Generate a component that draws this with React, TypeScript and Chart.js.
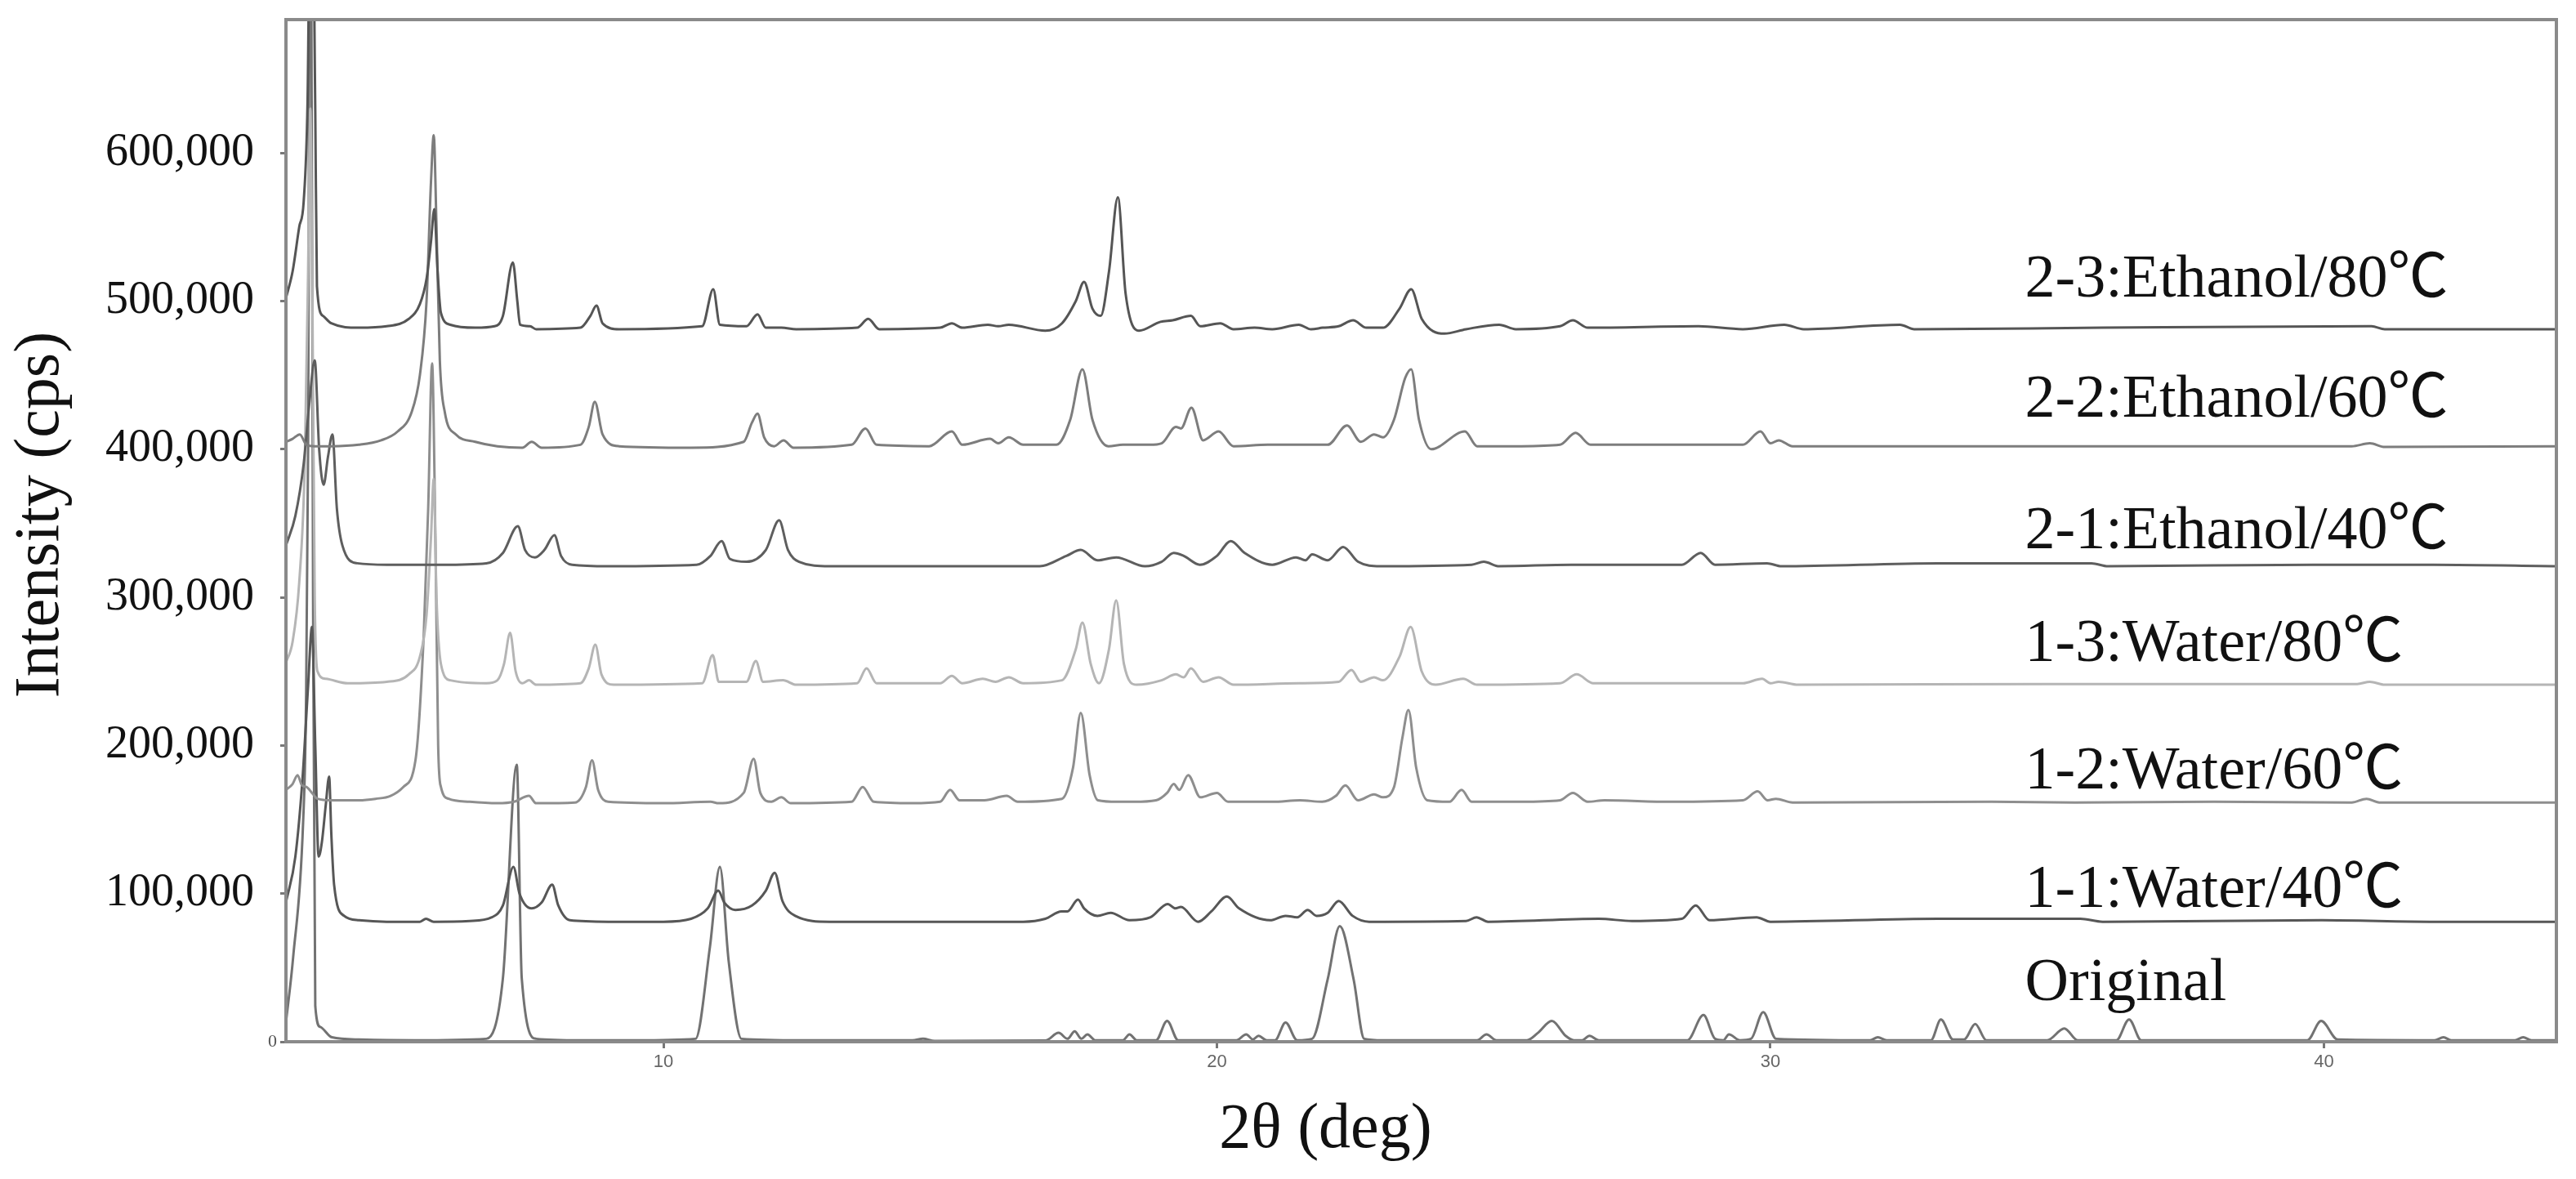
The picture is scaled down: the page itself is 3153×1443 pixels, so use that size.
import React, { useEffect, useRef } from "react";
import { Chart, registerables } from "chart.js";

Chart.register(...registerables);

// ---------- data ----------
const seriesNames = [
  "2-3:Ethanol/80℃",
  "2-2:Ethanol/60℃",
  "2-1:Ethanol/40℃",
  "1-3:Water/80℃",
  "1-2:Water/60℃",
  "1-1:Water/40℃",
  "Original",
];
const seriesOffsets = [480000, 400000, 320000, 240000, 160000, 80000, 0];
const yTickValues = [0, 100000, 200000, 300000, 400000, 500000, 600000];
const xTickValues = [10, 20, 30, 40];

// [2θ, intensity (cps)], before vertical offset
const ethanol80: [number, number][] = [
  [3.18, 22000], [3.3, 40000], [3.42, 70000], [3.5, 87000], [3.57, 154000], [3.62, 300000], [3.66, 300000],
  [3.71, 148000], [3.74, 30000], [3.85, 10000], [4.0, 5000], [4.5, 2000], [5.0, 3000], [5.4, 8000],
  [5.6, 18000], [5.72, 35000], [5.8, 60000], [5.86, 82000], [5.92, 40000], [5.98, 12000], [6.15, 4000],
  [6.6, 2000], [6.95, 3000], [7.1, 10000], [7.28, 46000], [7.36, 20000], [7.41, 4000], [7.59, 3000],
  [7.7, 1000], [8.5, 2000], [8.68, 10000], [8.79, 17000], [8.9, 5000], [9.2, 1000], [10.7, 3000],
  [10.9, 28000], [11.02, 4000], [11.5, 3000], [11.7, 11000], [11.85, 2000], [12.13, 2000], [12.4, 1000],
  [13.5, 2000], [13.7, 8000], [13.9, 1000], [15.0, 2000], [15.21, 5000], [15.4, 2000], [15.86, 4000],
  [16.05, 3000], [16.24, 4000], [16.9, 0], [17.2, 5000], [17.45, 20000], [17.6, 33000], [17.75, 15000],
  [17.9, 10000], [18.05, 40000], [18.21, 90000], [18.35, 25000], [18.59, 0], [18.98, 6000], [19.2, 7000],
  [19.53, 10000], [19.7, 3000], [20.06, 5000], [20.3, 1000], [20.68, 2000], [21.0, 1000], [21.48, 4000],
  [21.7, 1000], [21.91, 2000], [22.2, 3000], [22.46, 7000], [22.7, 2000], [23.0, 2000], [23.3, 15000],
  [23.51, 28000], [23.7, 8000], [24.11, -2000], [24.5, 1000], [25.1, 4000], [25.4, 1000], [26.2, 3000],
  [26.43, 7000], [26.7, 2000], [28.7, 3000], [29.5, 1000], [30.25, 4000], [30.6, 1000], [32.34, 4000],
  [32.6, 1000], [36.0, 2000], [40.86, 3000], [41.1, 1000], [44.2, 1000],
];

const ethanol60: [number, number][] = [
  [3.18, 5000], [3.3, 7000], [3.43, 10000], [3.55, 3000], [3.7, 2000], [4.0, 2000], [4.5, 3000],
  [4.9, 6000], [5.2, 12000], [5.45, 25000], [5.6, 50000], [5.72, 100000], [5.8, 180000], [5.85, 212000],
  [5.9, 150000], [5.96, 60000], [6.05, 25000], [6.25, 10000], [6.6, 5000], [7.0, 2000], [7.45, 1000],
  [7.62, 5000], [7.8, 1000], [8.5, 3000], [8.65, 15000], [8.76, 32000], [8.9, 10000], [9.2, 2000],
  [10.5, 1000], [11.45, 5000], [11.6, 18000], [11.7, 24000], [11.82, 8000], [12.0, 2000], [12.17, 6000],
  [12.35, 1000], [13.4, 3000], [13.65, 14000], [13.85, 3000], [14.8, 2000], [15.21, 12000], [15.4, 3000],
  [15.9, 7000], [16.05, 4000], [16.24, 8000], [16.5, 3000], [17.1, 3000], [17.35, 20000], [17.57, 54000],
  [17.75, 20000], [18.04, 2000], [18.3, 3000], [18.79, 3000], [19.0, 4000], [19.26, 15000], [19.35, 14000],
  [19.54, 28000], [19.75, 6000], [20.03, 12000], [20.3, 2000], [20.92, 3000], [21.48, 3000], [22.0, 3000],
  [22.35, 16000], [22.6, 5000], [22.84, 10000], [23.0, 8000], [23.2, 20000], [23.4, 48000], [23.51, 54000],
  [23.65, 20000], [23.87, 0], [24.48, 12000], [24.7, 2000], [25.5, 2000], [26.2, 3000], [26.48, 11000],
  [26.75, 3000], [27.09, 3000], [28.18, 3000], [29.5, 3000], [29.82, 12000], [30.0, 4000], [30.15, 6000],
  [30.4, 2000], [33.0, 2000], [36.0, 2000], [40.5, 2000], [40.83, 4000], [41.1, 1500], [44.2, 2000],
];

const ethanol40: [number, number][] = [
  [3.18, 15000], [3.35, 35000], [3.5, 70000], [3.6, 110000], [3.7, 140000], [3.78, 80000], [3.86, 56000],
  [3.94, 75000], [4.02, 90000], [4.1, 40000], [4.2, 15000], [4.47, 3000], [5.0, 2000], [6.0, 2000],
  [6.8, 3000], [7.1, 10000], [7.37, 28000], [7.5, 12000], [7.68, 7000], [7.85, 12000], [8.03, 22000],
  [8.15, 8000], [8.35, 2000], [9.0, 1000], [10.6, 2000], [10.85, 8000], [11.05, 18000], [11.2, 6000],
  [11.5, 4000], [11.85, 12000], [12.09, 32000], [12.25, 12000], [12.45, 4000], [13.0, 1000], [16.8, 1000],
  [17.28, 8000], [17.54, 12000], [17.84, 5000], [18.18, 7000], [18.7, 1000], [19.0, 4000], [19.22, 10000],
  [19.4, 8000], [19.69, 2000], [20.0, 8000], [20.25, 18000], [20.5, 10000], [21.0, 2000], [21.43, 7000],
  [21.6, 5000], [21.72, 9000], [22.0, 5000], [22.28, 14000], [22.55, 4000], [22.95, 1000], [24.6, 2000],
  [24.82, 4000], [25.1, 1000], [26.4, 2000], [28.4, 2000], [28.74, 10000], [29.0, 2000], [29.94, 3000],
  [30.2, 1000], [33.03, 3000], [35.8, 3000], [36.1, 1000], [39.8, 2000], [41.98, 2000], [44.2, 1000],
];

const water80: [number, number][] = [
  [3.18, 16000], [3.3, 30000], [3.42, 70000], [3.52, 150000], [3.58, 280000], [3.62, 390000], [3.66, 250000],
  [3.7, 60000], [3.75, 10000], [3.9, 5000], [4.3, 2000], [5.0, 3000], [5.4, 8000], [5.6, 20000],
  [5.72, 48000], [5.8, 100000], [5.85, 140000], [5.9, 60000], [5.98, 15000], [6.15, 4000], [6.8, 2000],
  [7.0, 4000], [7.12, 15000], [7.23, 36000], [7.33, 10000], [7.45, 2000], [7.57, 4000], [7.7, 1000],
  [8.5, 2000], [8.65, 12000], [8.77, 28000], [8.88, 8000], [9.1, 1000], [10.7, 2000], [10.89, 21000],
  [11.0, 3000], [11.5, 3000], [11.67, 17000], [11.8, 3000], [12.16, 4000], [12.4, 1000], [13.5, 2000],
  [13.67, 12000], [13.85, 2000], [15.0, 2000], [15.21, 7000], [15.4, 2000], [15.77, 5000], [16.0, 3000],
  [16.24, 6000], [16.5, 2000], [17.2, 4000], [17.45, 25000], [17.57, 43000], [17.72, 15000], [17.87, 2000],
  [18.05, 25000], [18.18, 58000], [18.32, 15000], [18.55, 1000], [19.0, 4000], [19.26, 8000], [19.4, 6000],
  [19.53, 12000], [19.75, 3000], [20.03, 6000], [20.3, 1000], [21.48, 2000], [22.2, 3000], [22.43, 11000],
  [22.6, 3000], [22.84, 6000], [23.0, 4000], [23.3, 20000], [23.5, 40000], [23.7, 10000], [23.95, 1000],
  [24.45, 5000], [24.7, 1000], [26.2, 2000], [26.5, 8000], [26.8, 2000], [29.5, 2000], [29.85, 5000],
  [30.0, 2000], [30.15, 3000], [30.5, 1000], [35.0, 1500], [40.6, 1500], [40.83, 3000], [41.1, 1000],
  [44.2, 1000],
];

const water60: [number, number][] = [
  [3.18, 10000], [3.3, 14000], [3.39, 20000], [3.47, 13000], [3.55, 12000], [3.65, 8000], [3.75, 4000],
  [4.0, 3000], [4.5, 3000], [4.8, 4000], [5.07, 6000], [5.3, 12000], [5.52, 30000], [5.67, 115000],
  [5.75, 200000], [5.82, 298000], [5.88, 180000], [5.93, 40000], [5.98, 12000], [6.12, 4000], [6.5, 2000],
  [7.0, 1000], [7.3, 2000], [7.57, 6000], [7.7, 1000], [8.4, 1500], [8.6, 12000], [8.71, 30000],
  [8.82, 10000], [9.0, 2000], [10.0, 1000], [10.85, 2000], [11.0, 1000], [11.45, 8000], [11.63, 31000],
  [11.75, 8000], [11.95, 2000], [12.13, 5000], [12.3, 1000], [13.4, 2000], [13.6, 12000], [13.8, 2000],
  [14.5, 1000], [15.0, 2000], [15.18, 10000], [15.35, 3000], [15.8, 3000], [16.2, 6000], [16.4, 2000],
  [17.2, 4000], [17.4, 25000], [17.54, 62000], [17.7, 20000], [17.85, 3000], [18.2, 2000], [18.5, 2000],
  [18.9, 3000], [19.1, 8000], [19.22, 14000], [19.32, 10000], [19.48, 20000], [19.7, 5000], [20.0, 8000],
  [20.2, 2000], [21.0, 2000], [21.5, 3000], [21.9, 2000], [22.15, 6000], [22.32, 13000], [22.55, 3000],
  [22.84, 7000], [23.0, 5000], [23.2, 12000], [23.35, 45000], [23.46, 64000], [23.6, 25000], [23.8, 3000],
  [24.2, 2000], [24.42, 10000], [24.6, 2000], [25.5, 2000], [26.2, 3000], [26.43, 8000], [26.7, 2000],
  [27.0, 3000], [28.2, 2000], [29.5, 3000], [29.77, 9000], [29.95, 3000], [30.1, 4000], [30.4, 1500],
  [34.0, 2000], [35.5, 1500], [38.0, 2000], [40.5, 1500], [40.77, 4000], [41.0, 1500], [44.2, 1500],
];

const water40: [number, number][] = [
  [3.18, 14000], [3.35, 45000], [3.48, 98000], [3.58, 160000], [3.65, 200000], [3.71, 120000], [3.77, 45000],
  [3.83, 55000], [3.9, 80000], [3.96, 99000], [4.0, 60000], [4.05, 26000], [4.23, 5000], [4.5, 2000],
  [5.0, 1000], [5.6, 1000], [5.71, 3000], [5.85, 1000], [6.5, 1500], [6.9, 4000], [7.1, 12000],
  [7.29, 38000], [7.4, 20000], [7.62, 10000], [7.8, 14000], [7.99, 26000], [8.1, 12000], [8.31, 2000],
  [9.0, 1000], [10.0, 1000], [10.5, 3000], [10.8, 10000], [10.99, 22000], [11.1, 14000], [11.3, 9000],
  [11.6, 12000], [11.85, 22000], [12.01, 34000], [12.15, 15000], [12.38, 5000], [13.0, 1000], [16.5, 1000],
  [16.9, 3000], [17.19, 8000], [17.3, 8000], [17.49, 16000], [17.6, 10000], [17.84, 5000], [18.08, 7000],
  [18.42, 2000], [18.8, 4000], [19.11, 13000], [19.25, 10000], [19.35, 11000], [19.66, 1000], [19.9, 8000],
  [20.18, 18000], [20.4, 10000], [20.96, 2000], [21.24, 5000], [21.45, 4000], [21.64, 9000], [21.8, 5000],
  [22.0, 7000], [22.2, 15000], [22.45, 5000], [22.75, 1000], [24.5, 1500], [24.69, 4000], [24.9, 1000],
  [26.9, 3000], [27.5, 1500], [28.4, 3000], [28.65, 12000], [28.9, 2000], [29.75, 4000], [30.0, 1000],
  [33.03, 3000], [35.6, 3000], [36.0, 1000], [39.96, 2000], [42.0, 1000], [44.2, 1000],
];

const original: [number, number][] = [
  [3.18, 13000], [3.31, 57000], [3.49, 148000], [3.54, 222000], [3.58, 400000], [3.62, 900000], [3.67, 300000],
  [3.71, 24000], [3.8, 10000], [4.01, 3000], [4.5, 1500], [5.5, 1000], [6.8, 2000], [7.1, 43000],
  [7.35, 187000], [7.44, 43000], [7.7, 2000], [8.5, 1000], [9.5, 1000], [10.58, 2000], [10.84, 64000],
  [11.02, 118000], [11.18, 54000], [11.41, 2000], [12.5, 1000], [14.5, 1000], [14.69, 2000], [14.9, 500],
  [16.9, 800], [17.14, 6000], [17.3, 2000], [17.43, 7000], [17.55, 2000], [17.66, 5000], [17.8, 1000],
  [18.3, 1000], [18.42, 5000], [18.55, 1000], [18.9, 1000], [19.1, 14000], [19.3, 1000], [20.35, 1000],
  [20.53, 5000], [20.65, 1500], [20.75, 4000], [20.9, 1000], [21.05, 1000], [21.24, 13000], [21.45, 1000],
  [21.72, 2000], [22.0, 42000], [22.22, 78000], [22.47, 42000], [22.66, 2000], [23.0, 1000], [24.7, 1000],
  [24.87, 5000], [25.05, 1000], [25.6, 1000], [25.8, 6000], [26.05, 14000], [26.3, 4000], [26.45, 1000],
  [26.6, 1000], [26.73, 4000], [26.9, 1000], [28.5, 1000], [28.79, 18000], [29.0, 2000], [29.15, 1000],
  [29.25, 5000], [29.45, 1000], [29.65, 2000], [29.87, 20000], [30.1, 2000], [31.8, 1000], [31.94, 3000],
  [32.1, 1000], [32.9, 1000], [33.08, 15000], [33.3, 1500], [33.5, 1500], [33.7, 12000], [33.9, 1000],
  [35.0, 1000], [35.31, 9000], [35.55, 1000], [36.25, 1000], [36.48, 15000], [36.7, 1000], [39.7, 1000],
  [39.95, 14000], [40.25, 1500], [42.0, 1000], [42.16, 3000], [42.3, 1000], [43.45, 1000], [43.6, 3000],
  [43.75, 1000], [44.2, 1000],
];

const seriesData = [ethanol80, ethanol60, ethanol40, water80, water60, water40, original];

// ---------- styling / layout ----------
const lineColors = ["#555555", "#7d7d7d", "#5e5e5e", "#b5b5b5", "#8e8e8e", "#575757", "#727272"];
const labelX = 34.6;
const labelY = [503000, 422000, 333000, 257000, 171000, 91000, 28000];
const SERIF = "'Liberation Serif', 'Noto Sans CJK JP', serif";

const W = 3153;
const H = 1443;
const PLOT_LEFT = 350;
const PLOT_RIGHT = 3129;
const PLOT_TOP = 24;
const PLOT_BOTTOM = 1275;

const fmt = (v: number) => String(Math.round(v)).replace(/\B(?=(\d{3})+(?!\d))/g, ",");

export default function App() {
  const ref = useRef<HTMLCanvasElement | null>(null);

  useEffect(() => {
    document.body.style.margin = "0";
    const canvas = ref.current;
    if (!canvas) return;

    const framePlugin = {
      id: "frameAndLabels",
      afterDatasetsDraw(chart: any) {
        const { ctx, chartArea, scales } = chart;
        ctx.save();
        ctx.strokeStyle = "#8a8a8a";
        ctx.lineWidth = 4;
        ctx.strokeRect(chartArea.left, chartArea.top, chartArea.right - chartArea.left, chartArea.bottom - chartArea.top);
        ctx.fillStyle = "#111111";
        ctx.font = `74px ${SERIF}`;
        ctx.textAlign = "left";
        ctx.textBaseline = "alphabetic";
        seriesNames.forEach((name, i) => {
          ctx.fillText(name, scales.x.getPixelForValue(labelX), scales.y.getPixelForValue(labelY[i]));
        });
        ctx.restore();
      },
    };

    const chart = new Chart(canvas, {
      type: "line",
      data: {
        datasets: seriesNames.map((name, i) => ({
          label: name,
          data: seriesData[i].map(([x, y]) => ({ x, y: y + seriesOffsets[i] })),
          borderColor: lineColors[i],
          borderWidth: 3,
          pointRadius: 0,
          cubicInterpolationMode: "monotone",
          fill: false,
        })),
      },
      options: {
        animation: false,
        responsive: false,
        devicePixelRatio: 1,
        events: [],
        layout: { padding: { left: 0, right: W - PLOT_RIGHT, top: PLOT_TOP, bottom: 0 } },
        plugins: { legend: { display: false }, tooltip: { enabled: false } },
        scales: {
          x: {
            type: "linear",
            min: 3.18,
            max: 44.2,
            afterBuildTicks: (scale: any) => {
              scale.ticks = xTickValues.map((v) => ({ value: v }));
            },
            afterFit: (scale: any) => {
              scale.height = H - PLOT_BOTTOM;
              scale.paddingLeft = 0;
              scale.paddingRight = 0;
            },
            border: { display: false },
            grid: { drawOnChartArea: false, drawTicks: true, tickLength: 8, color: "#777777", lineWidth: 3 },
            ticks: {
              autoSkip: false,
              maxRotation: 0,
              padding: 4,
              color: "#666666",
              font: { family: "'Liberation Sans', sans-serif", size: 22 },
              callback: (v: any) => String(v),
            },
            title: {
              display: true,
              text: "2θ (deg)" + "            ",
              color: "#111111",
              font: { family: SERIF, size: 78 },
              padding: { top: 0, bottom: 13 },
            },
          },
          y: {
            type: "linear",
            min: 0,
            max: 690000,
            afterBuildTicks: (scale: any) => {
              scale.ticks = yTickValues.map((v) => ({ value: v }));
            },
            afterFit: (scale: any) => {
              scale.width = PLOT_LEFT;
              scale.paddingTop = 0;
              scale.paddingBottom = 0;
            },
            border: { display: false },
            grid: { drawOnChartArea: false, drawTicks: true, tickLength: 7, color: "#777777", lineWidth: 3 },
            ticks: {
              autoSkip: false,
              padding: 4,
              color: (c: any) => (c.tick && c.tick.value === 0 ? "#555555" : "#111111"),
              font: (c: any) =>
                c.tick && c.tick.value === 0 ? { family: SERIF, size: 22 } : { family: SERIF, size: 56 },
              callback: (v: any) => (Number(v) === 0 ? "0" : fmt(Number(v)) + "  "),
            },
            title: {
              display: true,
              text: "  " + "Intensity (cps)",
              color: "#111111",
              font: { family: SERIF, size: 78 },
              padding: { top: 4, bottom: 0 },
            },
          },
        },
      },
      plugins: [framePlugin],
    } as any);

    return () => chart.destroy();
  }, []);

  return (
    <div style={{ width: W, height: H }}>
      <canvas ref={ref} width={W} height={H} style={{ display: "block", width: W, height: H }} />
    </div>
  );
}
